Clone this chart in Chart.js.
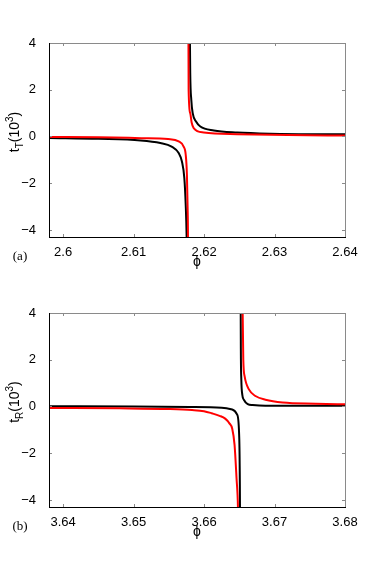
<!DOCTYPE html>
<html>
<head>
<meta charset="utf-8">
<script src="https://cdn.jsdelivr.net/npm/chart.js@4.4.0/dist/chart.umd.min.js"></script>
<style>
    html, body { margin: 0; padding: 0; background: #fff; }
    #wrap { position: relative; width: 382px; height: 571px; }
    canvas { position: absolute; left: 0; }
</style>
</head>
<body>
<div id="wrap">
    <canvas id="chartA" width="382" height="270" style="top:0px"></canvas>
    <canvas id="chartB" width="382" height="301" style="top:270px"></canvas>
</div>
<script>
// Panel (a): t_T vs phi
const phiA_black = [2.598, 2.605, 2.611, 2.6138, 2.6154, 2.6164, 2.61686, 2.6172, 2.6174, 2.61753, 2.6176, 2.6178, 2.61794, 2.61804, 2.61819, 2.61839, 2.61886, 2.61947, 2.62139, 2.62471, 2.62943, 2.6404];
const tA_black   = [-0.06, -0.10, -0.17, -0.28, -0.43, -0.71, -1.07, -1.77, -2.93, -4.3, -6, null, 6, 2.72, 1.57, 1.0, 0.64, 0.43, 0.26, 0.17, 0.12, 0.09];
const phiA_red   = [2.598, 2.605, 2.6111, 2.6149, 2.6164, 2.6171, 2.6174, 2.61757, 2.61767, 2.61772, 2.61774, 2.61775, 2.61777, 2.61781, 2.61804, 2.61824, 2.61853, 2.61996, 2.62471, 2.63186, 2.6404];
const tA_red     = [-0.02, -0.03, -0.07, -0.11, -0.21, -0.43, -0.78, -1.64, -3.06, -4.3, -6, null, 6, 2.0, 1.0, 0.6, 0.36, 0.17, 0.10, 0.06, 0.04];

// Panel (b): t_R vs phi
const phiB_black = [3.638, 3.650, 3.658, 3.6625, 3.6640, 3.6647, 3.6650, 3.6651, 3.66512, 3.66515, 3.66518, 3.66522, 3.66529, 3.66543, 3.66567, 3.6662, 3.6669, 3.6687, 3.6804];
const tB_black   = [0.01, 0.0, -0.02, -0.05, -0.13, -0.35, -1.4, -4.3, -6, null, 6, 2.5, 1.14, 0.5, 0.28, 0.1, 0.06, 0.03, 0.03];
const phiB_red   = [3.638, 3.648, 3.655, 3.6583, 3.6600, 3.6611, 3.6622, 3.6630, 3.6636, 3.6640, 3.66433, 3.66461, 3.66481, 3.6649, 3.6652, 3.6654, 3.66557, 3.66576, 3.66639, 3.66729, 3.66871, 3.67114, 3.67586, 3.6804];
const tB_red     = [-0.06, -0.08, -0.11, -0.15, -0.2, -0.29, -0.4, -0.52, -0.72, -0.95, -1.64, -3.07, -4.3, -6, null, 6, 2.0, 1.29, 0.72, 0.45, 0.29, 0.17, 0.12, 0.09];

// ticks
const xTicksA = [2.6, 2.61, 2.62, 2.63, 2.64];
const xTicksB = [3.64, 3.65, 3.66, 3.67, 3.68];
const yTicks = [-4, -2, 0, 2, 4];
const yTickLabels = ['\u22124', '\u22122', '0', '2', '4'];

const FONT = '"Liberation Sans", Arial, sans-serif';

function pts(xs, ys) {
    return xs.map((x, i) => ({ x: x, y: ys[i] }));
}

// box, inward ticks and axis titles (MATLAB look)
const framePlugin = {
    id: 'frame',
    afterDatasetsDraw(chart, args, opts) {
        const { ctx, chartArea: a, scales: { x, y } } = chart;
        ctx.save();
        ctx.lineWidth = 1;
        ctx.strokeStyle = '#8a8a8a';
        ctx.beginPath();
        x.ticks.forEach(t => {
            const px = Math.round(x.getPixelForValue(t.value)) + 0.5;
            ctx.moveTo(px, a.bottom); ctx.lineTo(px, a.bottom - 3);
            ctx.moveTo(px, a.top); ctx.lineTo(px, a.top + 3);
        });
        y.ticks.forEach(t => {
            const py = Math.round(y.getPixelForValue(t.value)) + 0.5;
            ctx.moveTo(a.left, py); ctx.lineTo(a.left + 3, py);
            ctx.moveTo(a.right, py); ctx.lineTo(a.right - 3, py);
        });
        // top and right edges
        ctx.moveTo(a.left, Math.round(a.top) + 0.5); ctx.lineTo(a.right, Math.round(a.top) + 0.5);
        ctx.moveTo(Math.round(a.right) + 0.5, a.top); ctx.lineTo(Math.round(a.right) + 0.5, a.bottom);
        ctx.stroke();

        ctx.strokeStyle = '#000';
        ctx.beginPath();
        ctx.moveTo(Math.round(a.left) + 0.5, a.top); ctx.lineTo(Math.round(a.left) + 0.5, a.bottom + 0.5);
        ctx.moveTo(a.left, Math.round(a.bottom) + 0.5); ctx.lineTo(a.right + 1, Math.round(a.bottom) + 0.5);
        ctx.stroke();

        // y title: t_sub(10^3)
        ctx.fillStyle = '#000';
        ctx.textBaseline = 'alphabetic';
        ctx.textAlign = 'left';
        const big = '14px ' + FONT, small = '10px ' + FONT;
        const parts = [
            { s: 't', f: big, dy: 0 },
            { s: opts.sub, f: small, dy: 4 },
            { s: '(10', f: big, dy: 0 },
            { s: '3', f: small, dy: -6 },
            { s: ')', f: big, dy: 0 }
        ];
        let w = 0;
        parts.forEach(p => { ctx.font = p.f; p.w = ctx.measureText(p.s).width; w += p.w; });
        ctx.translate(19, 132);
        ctx.rotate(-Math.PI / 2);
        let cx = -w / 2;
        parts.forEach(p => { ctx.font = p.f; ctx.fillText(p.s, cx, p.dy); cx += p.w; });
        ctx.setTransform(1, 0, 0, 1, 0, 0);

        // x title
        ctx.font = '14px ' + FONT;
        ctx.textAlign = 'center';
        ctx.textBaseline = 'middle';
        ctx.fillText('\u03D5', 197, 262);

        // panel letter
        ctx.font = '13px "Liberation Serif", serif';
        ctx.fillText(opts.letter, 20, 257);
        ctx.restore();
    }
};

function makeChart(id, xMin, xMax, xTicks, black, red, sub, letter) {
    const canvas = document.getElementById(id);
    const H = canvas.height;
    return new Chart(canvas.getContext('2d'), {
        type: 'line',
        data: {
            datasets: [
                { data: red, borderColor: '#ff0000', borderWidth: 2, pointRadius: 0, spanGaps: false, cubicInterpolationMode: 'monotone' },
                { data: black, borderColor: '#000000', borderWidth: 2, pointRadius: 0, spanGaps: false, cubicInterpolationMode: 'monotone' }
            ]
        },
        options: {
            responsive: false,
            animation: false,
            layout: { padding: { left: 0, top: 43, right: 37, bottom: 0 } },
            plugins: {
                legend: { display: false },
                tooltip: { enabled: false },
                frame: { sub: sub, letter: letter }
            },
            scales: {
                x: {
                    type: 'linear', min: xMin, max: xMax,
                    grid: { display: false }, border: { display: false },
                    afterBuildTicks: s => { s.ticks = xTicks.map(v => ({ value: v })); },
                    afterFit: s => { s.height = H - 237; },
                    ticks: { color: '#000', font: { family: FONT, size: 13 }, padding: 0, maxRotation: 0,
                             callback: v => String(v) }
                },
                y: {
                    type: 'linear', min: -4.3, max: 4,
                    grid: { display: false }, border: { display: false },
                    afterBuildTicks: s => { s.ticks = yTicks.map(v => ({ value: v })); },
                    afterFit: s => { s.width = 49; },
                    ticks: { color: '#000', font: { family: FONT, size: 13 }, padding: 5,
                             callback: v => yTickLabels[yTicks.indexOf(v)] }
                }
            }
        },
        plugins: [framePlugin]
    });
}

makeChart('chartA', 2.598, 2.64, xTicksA, pts(phiA_black, tA_black), pts(phiA_red, tA_red), 'T', '(a)');
makeChart('chartB', 3.638, 3.68, xTicksB, pts(phiB_black, tB_black), pts(phiB_red, tB_red), 'R', '(b)');
</script>
</body>
</html>
